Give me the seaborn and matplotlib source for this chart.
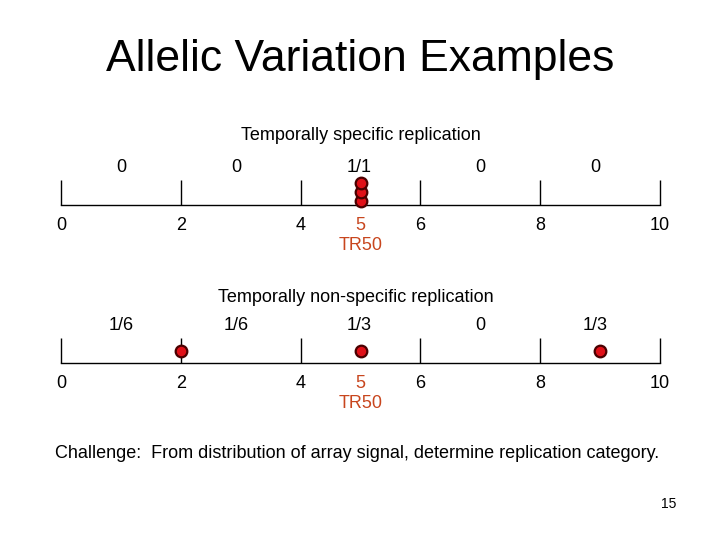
import matplotlib
matplotlib.use("Agg")
import matplotlib.pyplot as plt
import seaborn as sns
import pandas as pd

TITLE = "Allelic Variation Examples"
PANEL_TITLES = ["Temporally specific replication", "Temporally non-specific replication"]
TICKS = [0, 2, 4, 6, 8, 10]
BIN_MIDS = [1, 2.92, 4.97, 7, 8.92]
TR50 = 5

# fraction of signal in each 2-unit bin
FRACTIONS_1 = ["0", "0", "1/1", "0", "0"]
FRACTIONS_2 = ["1/6", "1/6", "1/3", "0", "1/3"]

# signal dots (x position, stack level)
DOTS_1_X = [5, 5, 5]
DOTS_1_LEVEL = [0, 1, 2]
DOTS_2_X = [2, 5, 9]
DOTS_2_LEVEL = [0, 0, 0]

CHALLENGE = "Challenge:  From distribution of array signal, determine replication category."
PAGE = "15"

RED = "#e01018"
EDGE = "#4a0000"
TR_COLOR = "#c8461e"

sns.set_style("white")
plt.rcParams["font.family"] = ["Liberation Sans", "DejaVu Sans"]
plt.rcParams["text.color"] = "black"
plt.rcParams["xtick.color"] = "black"
plt.rcParams["xtick.labelcolor"] = "black"

W, H = 720, 540
PT = 72 / 100  # points per pixel at dpi 100
fig = plt.figure(figsize=(7.2, 5.4), dpi=100)


def px_axes(x0, x1, ytop, ybot):
    return fig.add_axes([x0 / W, 1 - ybot / H, (x1 - x0) / W, (ybot - ytop) / H])


def number_line(ax, fractions, dots_x, dots_level, dot_y0, dot_step):
    ax.set_xlim(0, 10)
    ax.set_ylim(0, 1)
    for s in ["top", "left", "right"]:
        ax.spines[s].set_visible(False)
    ax.spines["bottom"].set_color("black")
    ax.spines["bottom"].set_linewidth(1.0)
    ax.set_facecolor("none")
    ax.vlines(TICKS, 0, 1, color="black", lw=1.0, clip_on=False)
    ax.set_xticks(TICKS + [TR50])
    ax.set_xticklabels([str(t) for t in TICKS] + [str(TR50)], fontsize=13)
    ax.get_xticklabels()[-1].set_color(TR_COLOR)
    ax.tick_params(axis="x", length=0, pad=9)
    ax.set_yticks([])
    ax.annotate("TR50", xy=(TR50, 0), xytext=(0, -40 * PT), textcoords="offset points",
                color=TR_COLOR, fontsize=13, ha="center", va="center", annotation_clip=False)
    for xm, lab in zip(BIN_MIDS, fractions):
        ax.annotate(lab, xy=(xm, 0), xytext=(0, 38 * PT), textcoords="offset points",
                    fontsize=13, ha="center", va="center", annotation_clip=False)
    df = pd.DataFrame({"x": dots_x, "y": [dot_y0 + dot_step * k for k in dots_level]})
    sns.scatterplot(data=df, x="x", y="y", ax=ax, s=70, color=RED, edgecolor=EDGE,
                    linewidth=1.6, zorder=5, clip_on=False, legend=False)
    ax.set_xlabel("")
    ax.set_ylabel("")


ax1 = px_axes(61, 660, 180, 205)
number_line(ax1, FRACTIONS_1, DOTS_1_X, DOTS_1_LEVEL, 0.18, 0.36)

ax2 = px_axes(61, 660, 338, 363)
number_line(ax2, FRACTIONS_2, DOTS_2_X, DOTS_2_LEVEL, 0.48, 0.36)

fig.text(360 / W, 1 - 59 / H, TITLE, fontsize=32, ha="center", va="center")
fig.text(361 / W, 1 - 136 / H, PANEL_TITLES[0], fontsize=13, ha="center", va="center")
fig.text(356 / W, 1 - 297 / H, PANEL_TITLES[1], fontsize=13, ha="center", va="center")
fig.text(55 / W, 1 - 454 / H, CHALLENGE, fontsize=13, ha="left", va="center")
fig.text(669 / W, 1 - 504 / H, PAGE, fontsize=10, ha="center", va="center")

fig.savefig("out.png", dpi=100)
